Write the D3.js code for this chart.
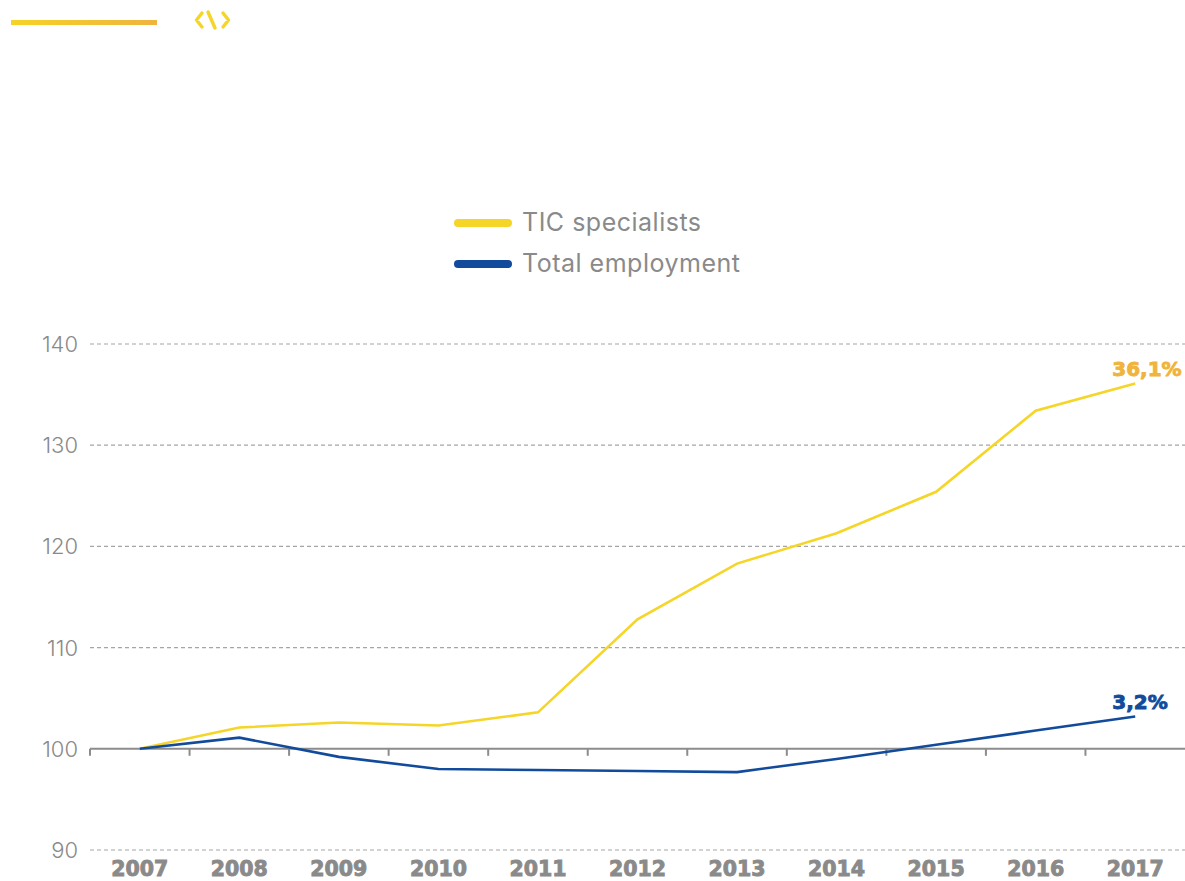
<!DOCTYPE html>
<html>
<head>
<meta charset="utf-8">
<script src="https://cdn.jsdelivr.net/npm/d3@7"></script>
<style>
  body { margin: 0; background: #fff; }
  svg { display: block; }
</style>
</head>
<body>
<div id="chart"></div>
<script>
var years = [2007, 2008, 2009, 2010, 2011, 2012, 2013, 2014, 2015, 2016, 2017];
var ticSpecialists = [100, 102.1, 102.6, 102.3, 103.6, 112.8, 118.3, 121.3, 125.4, 133.4, 136.1];
var totalEmployment = [100, 101.1, 99.2, 98.0, 97.9, 97.8, 97.7, 99.0, 100.4, 101.8, 103.2];
var yTicks = [90, 100, 110, 120, 130, 140];
var seriesNames = ["TIC specialists", "Total employment"];
var endLabels = ["36,1%", "3,2%"];

var width = 1185, height = 881;
var yellow = "#f5d527", blue = "#124b9b", orange = "#f0b43c", grey = "#8a8a8a";

var svg = d3.select("#chart")
  .append("svg")
  .attr("width", width)
  .attr("height", height);

// header decoration
var grad = svg.append("defs").append("linearGradient")
  .attr("id", "hdr").attr("x1", "0%").attr("x2", "100%");
grad.append("stop").attr("offset", "0%").attr("stop-color", "#f5d327");
grad.append("stop").attr("offset", "100%").attr("stop-color", "#efb33f");
svg.append("rect")
  .attr("x", 11).attr("y", 20).attr("width", 146).attr("height", 5)
  .attr("fill", "url(#hdr)");
svg.append("path")
  .attr("d", "M202,13 L196.5,20 L202,27 M208,12 L215,28 M223,13 L228.5,20 L223,27")
  .attr("fill", "none").attr("stroke", yellow).attr("stroke-width", 3.4)
  .attr("stroke-linecap", "round").attr("stroke-linejoin", "round");

var x = d3.scaleBand()
  .domain(years)
  .range([90, 1185]);

var y = d3.scaleLinear()
  .domain([90, 140])
  .range([850, 344]);

// gridlines
svg.append("g")
  .selectAll("line")
  .data(yTicks.filter(function(d) { return d != 100; }))
  .enter().append("line")
  .attr("x1", 90).attr("x2", 1185)
  .attr("y1", function(d) { return y(d); })
  .attr("y2", function(d) { return y(d); })
  .attr("stroke", "#a5a5a5")
  .attr("stroke-width", 1.2)
  .attr("stroke-dasharray", "4,3");

// y labels
svg.append("g")
  .selectAll("text")
  .data(yTicks)
  .enter().append("text")
  .attr("x", 78)
  .attr("y", function(d) { return y(d) + 8; })
  .attr("text-anchor", "end")
  .style("font-family", "Inter")
  .style("font-weight", 300)
  .style("font-size", "22px")
  .style("fill", grey)
  .text(function(d) { return d; });

// baseline at 100 with ticks at band edges
svg.append("line")
  .attr("x1", 90).attr("x2", 1185)
  .attr("y1", y(100)).attr("y2", y(100))
  .attr("stroke", "#8c8c8c").attr("stroke-width", 2);
svg.append("g")
  .selectAll("line")
  .data(years)
  .enter().append("line")
  .attr("x1", function(d) { return x(d); })
  .attr("x2", function(d) { return x(d); })
  .attr("y1", y(100)).attr("y2", y(100) + 7)
  .attr("stroke", "#8c8c8c").attr("stroke-width", 2);

// year labels
svg.append("g")
  .selectAll("text")
  .data(years)
  .enter().append("text")
  .attr("x", function(d) { return x(d) + x.bandwidth() / 2; })
  .attr("y", 876)
  .attr("text-anchor", "middle")
  .style("font-family", "DejaVu Sans")
  .style("font-weight", "bold")
  .style("font-size", "20.5px")
  .style("fill", grey)
  .style("stroke", grey)
  .style("stroke-width", 0.9)
  .text(function(d) { return d; });

// lines
var line = d3.line()
  .x(function(d, i) { return x(years[i]) + x.bandwidth() / 2; })
  .y(function(d) { return y(d); });

var series = [ticSpecialists, totalEmployment];
var colors = [yellow, blue];
var labelColors = [orange, blue];

svg.selectAll("path.series")
  .data(series)
  .enter().append("path")
  .attr("class", "series")
  .attr("d", line)
  .attr("fill", "none")
  .attr("stroke", function(d, i) { return colors[i]; })
  .attr("stroke-width", 2.6);

// end labels
svg.selectAll("text.end")
  .data(series)
  .enter().append("text")
  .attr("class", "end")
  .attr("x", x(2017) + x.bandwidth() / 2 - 23)
  .attr("y", function(d) { return y(d[d.length - 1]) - 7; })
  .style("font-family", "DejaVu Sans")
  .style("font-weight", "bold")
  .style("font-size", "20px")
  .style("fill", function(d, i) { return labelColors[i]; })
  .style("stroke", function(d, i) { return labelColors[i]; })
  .style("stroke-width", 0.9)
  .text(function(d, i) { return endLabels[i]; });

// legend
var legend = svg.selectAll("g.legend")
  .data(seriesNames)
  .enter().append("g")
  .attr("class", "legend")
  .attr("transform", function(d, i) { return "translate(458," + (223 + i * 41) + ")"; });
legend.append("line")
  .attr("x1", 0).attr("x2", 50)
  .attr("stroke", function(d, i) { return colors[i]; })
  .attr("stroke-width", 8)
  .attr("stroke-linecap", "round");
legend.append("text")
  .attr("x", 64)
  .attr("y", 8)
  .style("font-family", "Inter")
  .style("font-size", "25px")
  .style("letter-spacing", "0.5px")
  .style("fill", grey)
  .text(function(d) { return d; });
</script>
</body>
</html>
